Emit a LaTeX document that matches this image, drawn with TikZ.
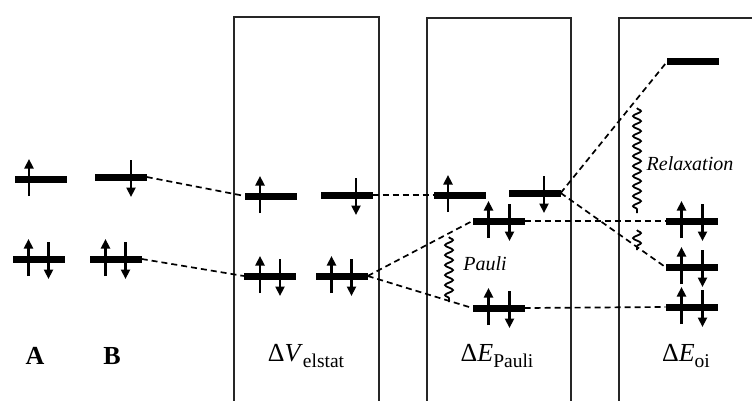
\documentclass[tikz,border=0pt]{standalone}
\usepackage{fontspec}
\setmainfont{Liberation Serif}
\usetikzlibrary{arrows.meta,decorations.pathmorphing,calc}

% electron spins drawn across a level node: #1 = level, #2 = horizontal offset
\newcommand{\spinup}[2]{\draw[spin] ($(#1)+(#2,17)$) -- ($(#1)+(#2,-20)$);}
\newcommand{\spindown}[2]{\draw[spin] ($(#1)+(#2,-17)$) -- ($(#1)+(#2,20)$);}
% lowered index text for the energy terms
\newcommand{\lowsub}[1]{\raisebox{-6pt}{\fontsize{19.5}{20}\selectfont #1}}

\begin{document}
\begin{tikzpicture}[x=1pt,y=-1pt,
  level/.style={fill=black,inner sep=0pt,minimum width=52pt,minimum height=7pt},
  spin/.style={line width=2.4pt,-{Triangle[length=9.5pt,width=9pt]}},
  link/.style={line width=1.7pt,dash pattern=on 6pt off 4pt},
  frame/.style={line width=1.4pt,draw=black!85},
  wig/.style={line width=1.8pt,decorate,decoration={snake,amplitude=4pt,segment length=10pt}},
  caption/.style={anchor=base,font=\fontsize{26}{30}\selectfont},
  note/.style={font=\fontsize{20}{24}\selectfont\itshape}]

\useasboundingbox (0,0) rectangle (752,401);

% panels, open at the bottom
\draw[frame] (234,401) -- (234,17) -- (379,17) -- (379,401);
\draw[frame] (427,401) -- (427,18) -- (571,18) -- (571,401);
\draw[frame] (619,401) -- (619,18) -- (752,18);

% fragments A and B
\node[level] (Aup) at (41,179) {};
\node[level] (Bup) at (120.5,177) {};
\node[level] (Alo) at (38.5,259) {};
\node[level] (Blo) at (115.5,259) {};

% electrostatic step
\node[level] (Vul) at (271,196) {};
\node[level] (Vur) at (346.5,195) {};
\node[level] (Vll) at (270,276) {};
\node[level] (Vlr) at (341.5,276) {};

% Pauli step
\node[level] (Pul) at (459.5,195) {};
\node[level] (Pur) at (534.5,193) {};
\node[level] (Pmid) at (498.5,221) {};
\node[level] (Pbot) at (498.5,308) {};

% orbital interaction step
\node[level] (Otop) at (693,62) {};
\node[level] (Oa) at (691.5,221) {};
\node[level] (Ob) at (691.5,267) {};
\node[level] (Oc) at (691.5,307) {};

% spins
\spinup{Aup}{-12}
\spindown{Bup}{10.5}
\spinup{Alo}{-10}\spindown{Alo}{10}
\spinup{Blo}{-10}\spindown{Blo}{10}
\spinup{Vul}{-11}
\spindown{Vur}{9.5}
\spinup{Vll}{-10}\spindown{Vll}{10}
\spinup{Vlr}{-10}\spindown{Vlr}{10}
\spinup{Pul}{-11.5}
\spindown{Pur}{9.5}
\spinup{Pmid}{-10}\spindown{Pmid}{11}
\spinup{Pbot}{-10}\spindown{Pbot}{11}
\spinup{Oa}{-10}\spindown{Oa}{11}
\spinup{Ob}{-10}\spindown{Ob}{11}
\spinup{Oc}{-10}\spindown{Oc}{11}

% correlation lines
\draw[link] (Bup.east) -- (Vul.west);
\draw[link] (Blo.east) -- (Vll.west);
\draw[link] (Vur.east) -- (Pul.west);
\draw[link] (Vlr.east) -- (Pmid.west);
\draw[link] (Vlr.east) -- (Pbot.west);
\draw[link] (Pmid.east) -- (Oa.west);
\draw[link] (Pbot.east) -- (Oc.west);
\draw[link] (Pur.east) -- (Otop.west);
\draw[link] (Pur.east) -- (Ob.west);

% wavy markers
\coordinate (pw1) at (449,237);
\coordinate (pw2) at (449,302);
\draw[wig] (pw1) -- (pw2);
\node[note] (pauli) at (485,264) {Pauli};

\coordinate (rw1) at (637,108);
\coordinate (rw2) at (637,213);
\coordinate (rw3) at (637,230);
\coordinate (rw4) at (637,250);
\draw[wig] (rw1) -- (rw2);
\draw[wig] (rw3) -- (rw4);
\node[note] (relax) at (690,164) {Relaxation};

% captions
\node[caption] (labA) at (35,364) {\textbf{A}};
\node[caption] (labB) at (112,364) {\textbf{B}};
\node[caption] (labV) at (306,361) {Δ\textit{V}\lowsub{elstat}};
\node[caption] (labP) at (497,361) {Δ\textit{E}\lowsub{Pauli}};
\node[caption] (labO) at (686,361) {Δ\textit{E}\lowsub{oi}};
\end{tikzpicture}
\end{document}
